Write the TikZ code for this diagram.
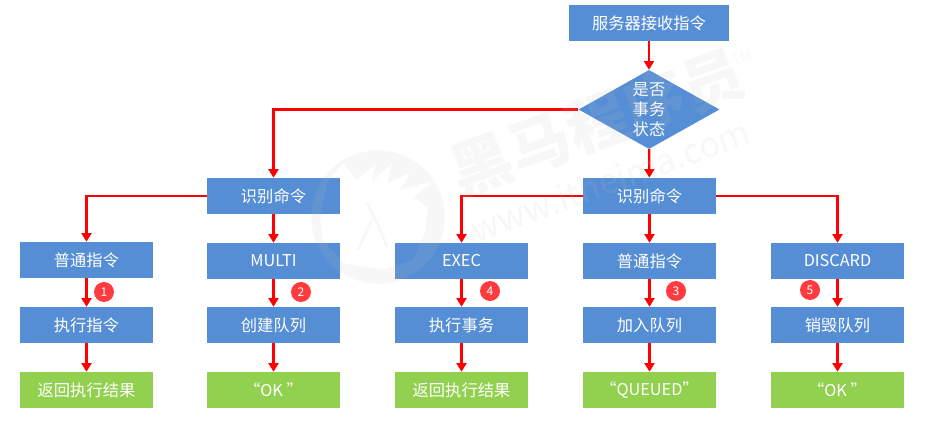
\documentclass[tikz,border=0pt]{standalone}
\usepackage{fontspec}
\setmainfont{Noto Sans CJK SC}
\usetikzlibrary{arrows.meta,%
		positioning,%
		shapes,%
		shapes.geometric}
\definecolor{boxblue}{HTML}{558ED5}
\definecolor{boxgreen}{HTML}{92D050}
\definecolor{badgered}{HTML}{FF3B3F}
\definecolor{linkred}{HTML}{FF0000}
\definecolor{markgray}{HTML}{C4C4C4}
\tikzset{x=.75pt,y=-.75pt,
	stepbox/.style={fill=boxblue,text=white,minimum width=99.75pt,minimum height=27pt,inner sep=0pt,font=\fontsize{12.2}{14}\selectfont},
	endbox/.style={stepbox,fill=boxgreen},
	choice/.style={diamond,aspect=1.78,fill=boxblue,text=white,minimum width=105.75pt,minimum height=59.25pt,inner sep=0pt,align=center,font=\fontsize{12.2}{14.8}\selectfont},
	badge/.style={circle,fill=badgered,text=white,minimum size=15pt,inner sep=0pt,font=\fontsize{9}{10}\selectfont},
	link/.style={draw=linkred,line width=1.7pt,-{Triangle[length=6.5pt,width=7.5pt]}},
	logotext/.style={text=markgray,opacity=.13,rotate=20,inner sep=0pt}}
\begin{document}
\begin{tikzpicture}
\useasboundingbox (0,0) rectangle (929,434);
%inizio
\node[stepbox,minimum width=120pt] (recv) at (649,23) {服务器接收指令};
\node[choice] (state) at (649,109.5) {是否\\事务\\状态};
\node[stepbox] (cmdL) at (273.5,196) {识别命令};
\node[stepbox] (cmdR) at (649.5,196) {识别命令};
%colonna1
\node[stepbox] (normA) at (86.5,260) {普通指令};
\node[stepbox] (execA) at (86.5,325) {执行指令};
\node[endbox] (backA) at (86.5,390) {返回执行结果};
%colonna2
\node[stepbox] (multi) at (273.5,261) {MULTI};
\node[stepbox] (queueA) at (273.5,325) {创建队列};
\node[endbox] (okA) at (273.5,390) {“OK ”};
%colonna3
\node[stepbox] (exec) at (461.5,261) {EXEC};
\node[stepbox] (execB) at (461.5,325) {执行事务};
\node[endbox] (backB) at (461.5,390) {返回执行结果};
%colonna4
\node[stepbox] (normB) at (649.5,261) {普通指令};
\node[stepbox] (queueB) at (649.5,325) {加入队列};
\node[endbox] (queued) at (649.5,390) {“QUEUED”};
%colonna5
\node[stepbox] (discard) at (837.5,261) {DISCARD};
\node[stepbox] (queueC) at (837.5,325) {销毁队列};
\node[endbox] (okB) at (837.5,390) {“OK ”};
%frecce
\draw[link] (recv) -- (state);
\draw[link] (state) -- (cmdR);
\draw[link] (state.west) -| (cmdL.north);
\draw[link] (cmdL.west) -| (normA.north);
\draw[link] (cmdL) -- (multi);
\draw[link] (cmdR.west) -| (exec.north);
\draw[link] (cmdR) -- (normB);
\draw[link] (cmdR.east) -| (discard.north);
\draw[link] (normA) -- (execA);
\draw[link] (execA) -- (backA);
\draw[link] (multi) -- (queueA);
\draw[link] (queueA) -- (okA);
\draw[link] (exec) -- (execB);
\draw[link] (execB) -- (backB);
\draw[link] (normB) -- (queueB);
\draw[link] (queueB) -- (queued);
\draw[link] (discard) -- (queueC);
\draw[link] (queueC) -- (okB);
%numeri
\node[badge] (n1) at (104,292) {1};
\node[badge] (n2) at (301,292) {2};
\node[badge] (n3) at (676,291) {3};
\node[badge] (n4) at (490,291) {4};
\node[badge] (n5) at (810,290) {5};
%filigrana
\fill[markgray,opacity=.13,even odd rule] (378,217) circle (50pt)
	(320,220) -- (327,183) -- (343,163) -- (357,180) -- (375,165) -- (372,182) -- (392,163) -- (387,183) -- (410,173) -- (400,190) -- (432,182) -- (413,198) -- (428,207) -- (425,233) -- (413,260) -- (383,270) -- (343,263) -- (323,240) -- cycle;
\draw[markgray,opacity=.13,line width=2pt] (367,203) -- (378,225) -- (387,247) (372,220) -- (358,250);
\node[logotext,font=\fontsize{46}{48}\selectfont\bfseries] (brand) at (597,122) {黑马程序员};
\node[logotext,font=\fontsize{10}{12}\selectfont] (tm) at (742,57) {TM};
\node[logotext,font=\fontsize{26}{28}\selectfont] (site) at (610,180) {www.itheima.com};
\end{tikzpicture}
\end{document}
